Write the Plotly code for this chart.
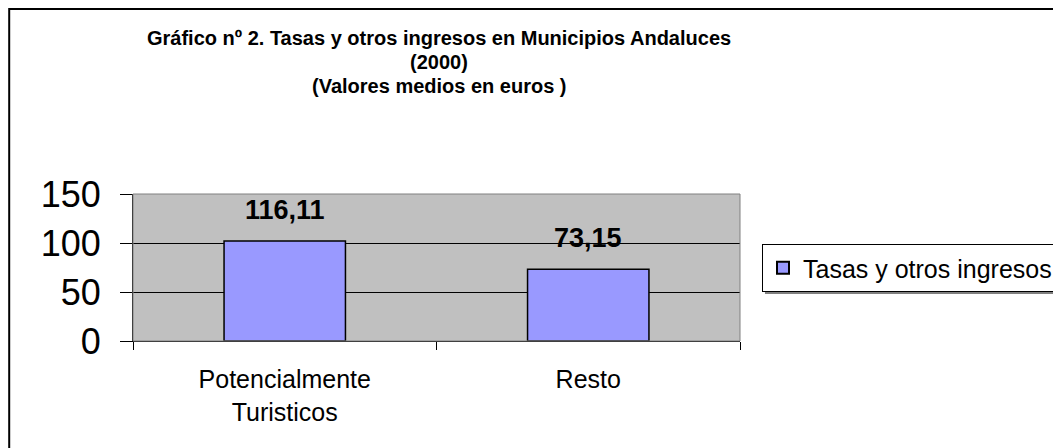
import plotly.graph_objects as go

# ---- data ----
categories = ["Potencialmente<br>Turisticos", "Resto"]
values = [102.0, 73.15]
value_labels = ["116,11", "73,15"]
series_name = "Tasas y otros ingresos"
title_lines = [
    "Gráfico nº 2. Tasas y otros ingresos en Municipios Andaluces",
    "(2000)",
    "(Valores medios en euros )",
]
y_ticks = [0, 50, 100, 150]

FONT = "Liberation Sans, Arial, sans-serif"

# page body has an 8px margin; work in figure pixel coordinates
OFF = 8
W, H = 1061, 448
PL, PR, PT, PB = 133 - OFF, 741 - OFF, 194 - OFF, 341 - OFF


def px_x(px):
    return (px - OFF - PL) / (PR - PL)


def px_y(py):
    return (PB - (py - OFF)) / (PB - PT)


fig = go.Figure()
fig.add_trace(go.Bar(
    x=categories,
    y=values,
    name=series_name,
    marker=dict(color="#9999FF", line=dict(color="black", width=1.5)),
    showlegend=True,
))

annotations = []
for cat, val, lab in zip(categories, values, value_labels):
    annotations.append(dict(
        x=cat, y=val, xref="x", yref="y", text=lab, showarrow=False,
        yanchor="middle", yshift=31,
        font=dict(family=FONT, size=27, color="black", weight="bold"),
    ))

for line, cy in zip(title_lines, [38, 62, 86]):
    annotations.append(dict(
        x=px_x(440), y=px_y(cy), xref="paper", yref="paper",
        text=line, showarrow=False, xanchor="center", yanchor="middle",
        font=dict(family=FONT, size=20, color="black", weight="bold"),
    ))

shapes = [
    # outer chart border (right / bottom edges lie beyond the view)
    dict(type="rect", xref="paper", yref="paper",
         x0=px_x(OFF + 1), x1=px_x(1085), y0=px_y(475), y1=px_y(OFF + 1),
         line=dict(color="black", width=2), fillcolor="rgba(0,0,0,0)",
         layer="above"),
    # plot-area border (top/right grey)
    dict(type="rect", xref="paper", yref="paper",
         x0=0, x1=1, y0=0, y1=1,
         line=dict(color="#808080", width=1), fillcolor="rgba(0,0,0,0)",
         layer="above"),
    # legend shadow
    dict(type="rect", xref="paper", yref="paper",
         x0=px_x(766), x1=px_x(1080), y0=px_y(294), y1=px_y(247),
         line=dict(width=0), fillcolor="#808080", layer="below"),
]

fig.update_layout(
    width=W, height=H,
    margin=dict(l=PL, r=W - PR, t=PT, b=H - PB, pad=0),
    paper_bgcolor="white",
    plot_bgcolor="#C0C0C0",
    bargap=0.6,
    font=dict(family=FONT, color="black"),
    showlegend=True,
    legend=dict(
        x=px_x(762), y=px_y(244), xanchor="left", yanchor="top",
        bgcolor="white", bordercolor="black", borderwidth=1,
        font=dict(family=FONT, size=25, color="black"),
        itemwidth=30, itemsizing="constant",
        tracegroupgap=0,
    ),
    annotations=annotations,
    shapes=shapes,
)

fig.update_yaxes(
    range=[0, 150], tickvals=y_ticks,
    showgrid=True, gridcolor="black", gridwidth=1,
    zeroline=False,
    showline=True, linecolor="black", linewidth=1,
    ticks="outside", ticklen=12, tickcolor="black", tickwidth=1,
    tickfont=dict(family=FONT, size=36, color="black"),
    ticklabelstandoff=12,
)
fig.update_xaxes(
    type="category",
    showgrid=False, zeroline=False,
    showline=True, linecolor="black", linewidth=1,
    ticks="outside", tickson="boundaries", ticklen=8, tickcolor="black",
    tickfont=dict(family=FONT, size=25, color="black"),
    ticklabelstandoff=16,
)

fig.write_html("out.html")
